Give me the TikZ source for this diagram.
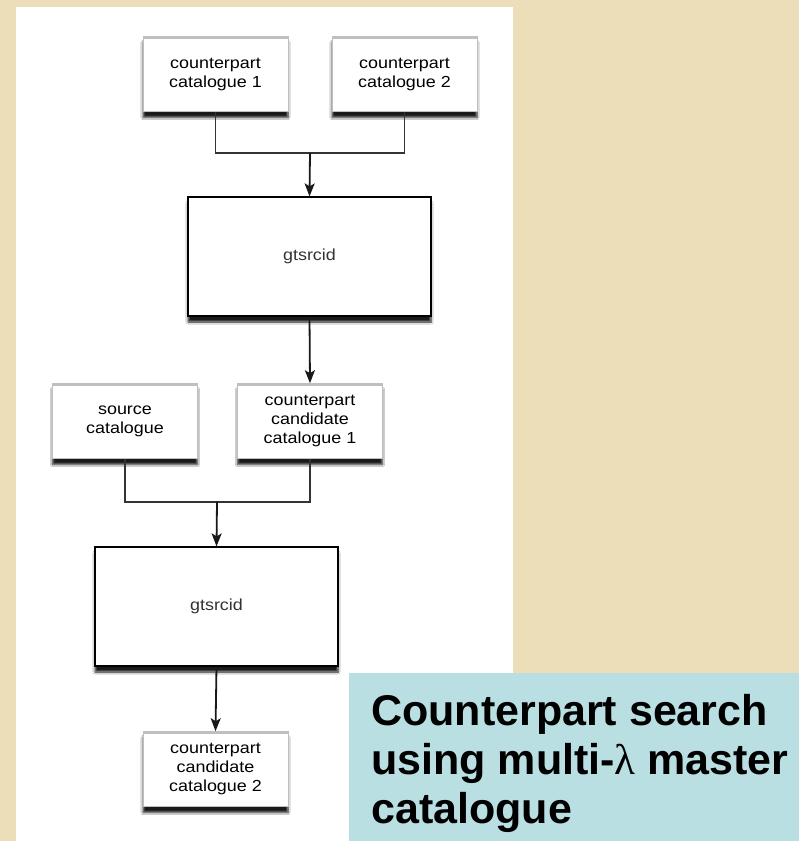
\documentclass[tikz,border=0pt]{standalone}
\usepackage{fontspec}
\setmainfont{Liberation Sans}
\newfontfamily\boxfont[FakeStretch=1.12]{Liberation Sans}
\newfontfamily\lamfont{Liberation Serif}
\usetikzlibrary{arrows.meta, shadows.blur, backgrounds}

\definecolor{parchment}{RGB}{237,222,186}
\definecolor{captionteal}{RGB}{185,223,227}

\tikzset{
  datastore/.style={rectangle, fill=white, draw=black!25, line width=0.6pt,
    minimum width=145pt, minimum height=75pt, inner sep=0pt, align=center,
    font=\boxfont\fontsize{16}{19}\selectfont,
    blur shadow={shadow xshift=0pt, shadow yshift=-6pt, shadow blur steps=8, shadow opacity=90},
    path picture={\draw[line width=4pt] (path picture bounding box.north west) -- (path picture bounding box.north east);}},
  process/.style={rectangle, fill=white, draw=black, line width=1.2pt,
    minimum width=243pt, minimum height=119pt, inner sep=0pt,
    font=\boxfont\fontsize{16}{19}\selectfont, text=black!80,
    blur shadow={shadow xshift=0pt, shadow yshift=-6pt, shadow blur steps=8, shadow opacity=90}},
  link/.style={line width=1.4pt, draw=black!80},
  flow/.style={line width=1.8pt, draw=black!90, -{Stealth[length=13pt,width=10pt,inset=3pt]}}
}

\begin{document}
\begin{tikzpicture}[x=1pt, y=-1pt]
  \useasboundingbox (0,0) rectangle (799,841);

  % Background and panel
  \fill[parchment] (0,0) rectangle (799,841);
  \fill[white] (16,7) rectangle (513,841);

  % Input catalogues
  \node[datastore] (cat1) at (215.5,74) {counterpart\\catalogue 1};
  \node[datastore] (cat2) at (404.5,74) {counterpart\\catalogue 2};
  \coordinate (join1) at (310,153);

  % First cross-match
  \node[process] (gts1) at (309.5,256.5) {gtsrcid};

  \node[datastore] (src)   at (125,421) {source\\catalogue};
  \node[datastore] (cand1) at (310,421) {counterpart\\candidate\\catalogue 1};
  \coordinate (join2) at (217,502);

  % Second cross-match
  \node[process] (gts2) at (216.5,606.5) {gtsrcid};
  \node[datastore] (cand2) at (215.5,769) {counterpart\\candidate\\catalogue 2};

  % Connectors
  \draw[link] (cat1.south) |- (join1) -| (cat2.south);
  \draw[flow] (join1) -- (gts1.north);
  \draw[flow] (gts1.south) -- (cand1.north);
  \draw[link] (src.south) |- (join2) -| (cand1.south);
  \draw[flow] (join2) -- (gts2.north);
  \draw[flow] (gts2.south) -- (cand2.north);

  % Caption
  \fill[captionteal] (349,673) rectangle (799,841);
  \node[anchor=north west, inner sep=0pt, align=left,
        font=\bfseries\fontsize{43}{49}\selectfont] (caption) at (371,694)
    {Counterpart search\\using multi-{\lamfont\mdseries λ} master\\catalogue};
\end{tikzpicture}
\end{document}
